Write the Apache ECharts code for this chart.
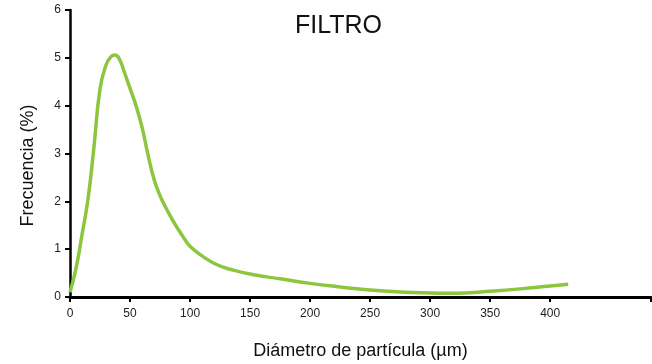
<!DOCTYPE html>
<html>
<head>
<meta charset="utf-8">
<script src="https://cdn.jsdelivr.net/npm/echarts@6/dist/echarts.min.js"></script>
<style>
html,body{margin:0;padding:0;background:#fff;}
#chart{width:652px;height:364px;}
</style>
</head>
<body>
<div id="chart"></div>
<script>
var diameters = [0, 5, 10, 15, 20, 25, 30, 34, 37.5, 41, 45, 50, 55, 60, 65, 70, 75, 80, 85, 90, 95, 100, 110, 122, 135, 150, 175, 200, 225, 250, 275, 300, 315, 330, 350, 375, 400, 415];
var frequency = [0.1, 0.6, 1.3, 2.05, 3.15, 4.35, 4.85, 5.02, 5.06, 4.98, 4.72, 4.36, 4.0, 3.55, 2.97, 2.46, 2.12, 1.86, 1.63, 1.42, 1.23, 1.06, 0.86, 0.68, 0.57, 0.48, 0.38, 0.285, 0.21, 0.146, 0.105, 0.083, 0.078, 0.085, 0.12, 0.17, 0.23, 0.265];
var xTickValues = [0, 50, 100, 150, 200, 250, 300, 350, 400, 484];
var xLabelValues = [0, 50, 100, 150, 200, 250, 300, 350, 400];
var yTicks = [0, 1, 2, 3, 4, 5, 6];

var font = "'Liberation Sans', Arial, Helvetica, sans-serif";
var chart = echarts.init(document.getElementById('chart'), null, {renderer: 'canvas'});
var points = diameters.map(function (d, i) { return [d, frequency[i]]; });
chart.setOption({
  animation: false,
  backgroundColor: '#ffffff',
  title: {
    text: 'FILTRO',
    left: 290,
    top: 9,
    textStyle: {fontFamily: font, fontSize: 25, fontWeight: 'normal', color: '#111'}
  },
  grid: {left: 70, right: 1, top: 10, bottom: 67, containLabel: false, outerBoundsMode: 'none'},
  xAxis: {
    type: 'value',
    min: 0,
    max: 484,
    name: 'Diámetro de partícula (µm)',
    nameLocation: 'middle',
    nameGap: 45,
    nameTextStyle: {fontFamily: font, fontSize: 18, color: '#111'},
    axisLine: {lineStyle: {color: '#000', width: 3}},
    axisTick: {show: true, length: 5, lineStyle: {color: '#000', width: 2}, customValues: xTickValues},
    axisLabel: {fontFamily: font, fontSize: 12, color: '#222', margin: 11, customValues: xLabelValues},
    splitLine: {show: false}
  },
  yAxis: {
    type: 'value',
    min: yTicks[0],
    max: yTicks[yTicks.length - 1],
    interval: 1,
    name: 'Frecuencia (%)',
    nameLocation: 'middle',
    nameGap: 33,
    nameTextStyle: {fontFamily: font, fontSize: 18, color: '#111', padding: [0, 24, 0, 0]},
    axisLine: {show: true, lineStyle: {color: '#000', width: 2.5}},
    axisTick: {show: true, length: 5, lineStyle: {color: '#000', width: 2}},
    axisLabel: {fontFamily: font, fontSize: 12, color: '#222', margin: 9},
    splitLine: {show: false}
  },
  series: [{
    type: 'line',
    data: points,
    smooth: 0.5,
    showSymbol: false,
    lineStyle: {color: '#8cc63f', width: 3.5},
    itemStyle: {color: '#8cc63f'}
  }]
});
</script>
</body>
</html>
